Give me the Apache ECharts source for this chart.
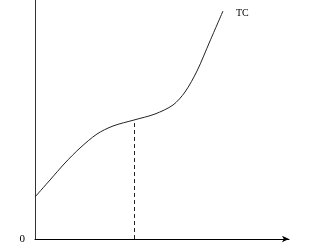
<!DOCTYPE html>
<html>
<head>
<meta charset="utf-8">
<script src="https://cdn.jsdelivr.net/npm/echarts@6/dist/echarts.min.js"></script>
<style>html,body{margin:0;padding:0;background:#fff}#c{width:326px;height:245px}</style>
</head>
<body>
<div id="c"></div>
<script>
// Output quantity (Q) and total cost (TC)
var quantity = [0, 15, 30, 45, 62, 78, 99, 120, 138, 150, 162, 175, 188];
var totalCost = [42, 59, 76, 91, 105, 113, 119, 125, 134, 147, 168, 198, 228];
var inflectionQ = 99;
var inflectionTC = 119;
var originLabel = '0';
var curveName = 'TC';

var chart = echarts.init(document.getElementById('c'));
var pts = quantity.map(function (q, i) { return [q, totalCost[i]]; });
chart.setOption({
  animation: false,
  grid: { left: 35, right: 37, top: 0, bottom: 6 },
  xAxis: {
    type: 'value', min: 0, max: 254,
    axisLine: { show: true, onZero: false, symbol: ['none', 'arrow'], symbolSize: [5, 7], lineStyle: { color: '#000', width: 1 } },
    axisTick: { show: false }, axisLabel: { show: false }, splitLine: { show: false }
  },
  yAxis: {
    type: 'value', min: 0, max: 239, interval: 239,
    axisLine: { show: true, onZero: false, lineStyle: { color: '#333', width: 1 } },
    axisTick: { show: false },
    axisLabel: {
      margin: 10, color: '#000', fontFamily: 'Liberation Serif', fontSize: 11,
      formatter: function (v) { return v === 0 ? originLabel : ''; }
    },
    splitLine: { show: false }
  },
  series: [{
    type: 'line', data: pts, smooth: 0.3, showSymbol: false,
    lineStyle: { color: '#222', width: 1 },
    endLabel: { show: true, formatter: curveName, color: '#000', fontFamily: 'Liberation Serif', fontSize: 10, offset: [5, 2] },
    markLine: {
      silent: true, symbol: 'none', label: { show: false },
      lineStyle: { color: '#222', type: [4, 3], width: 1 },
      data: [[{ coord: [inflectionQ, 0] }, { coord: [inflectionQ, inflectionTC] }]]
    }
  }]
});
</script>
</body>
</html>
